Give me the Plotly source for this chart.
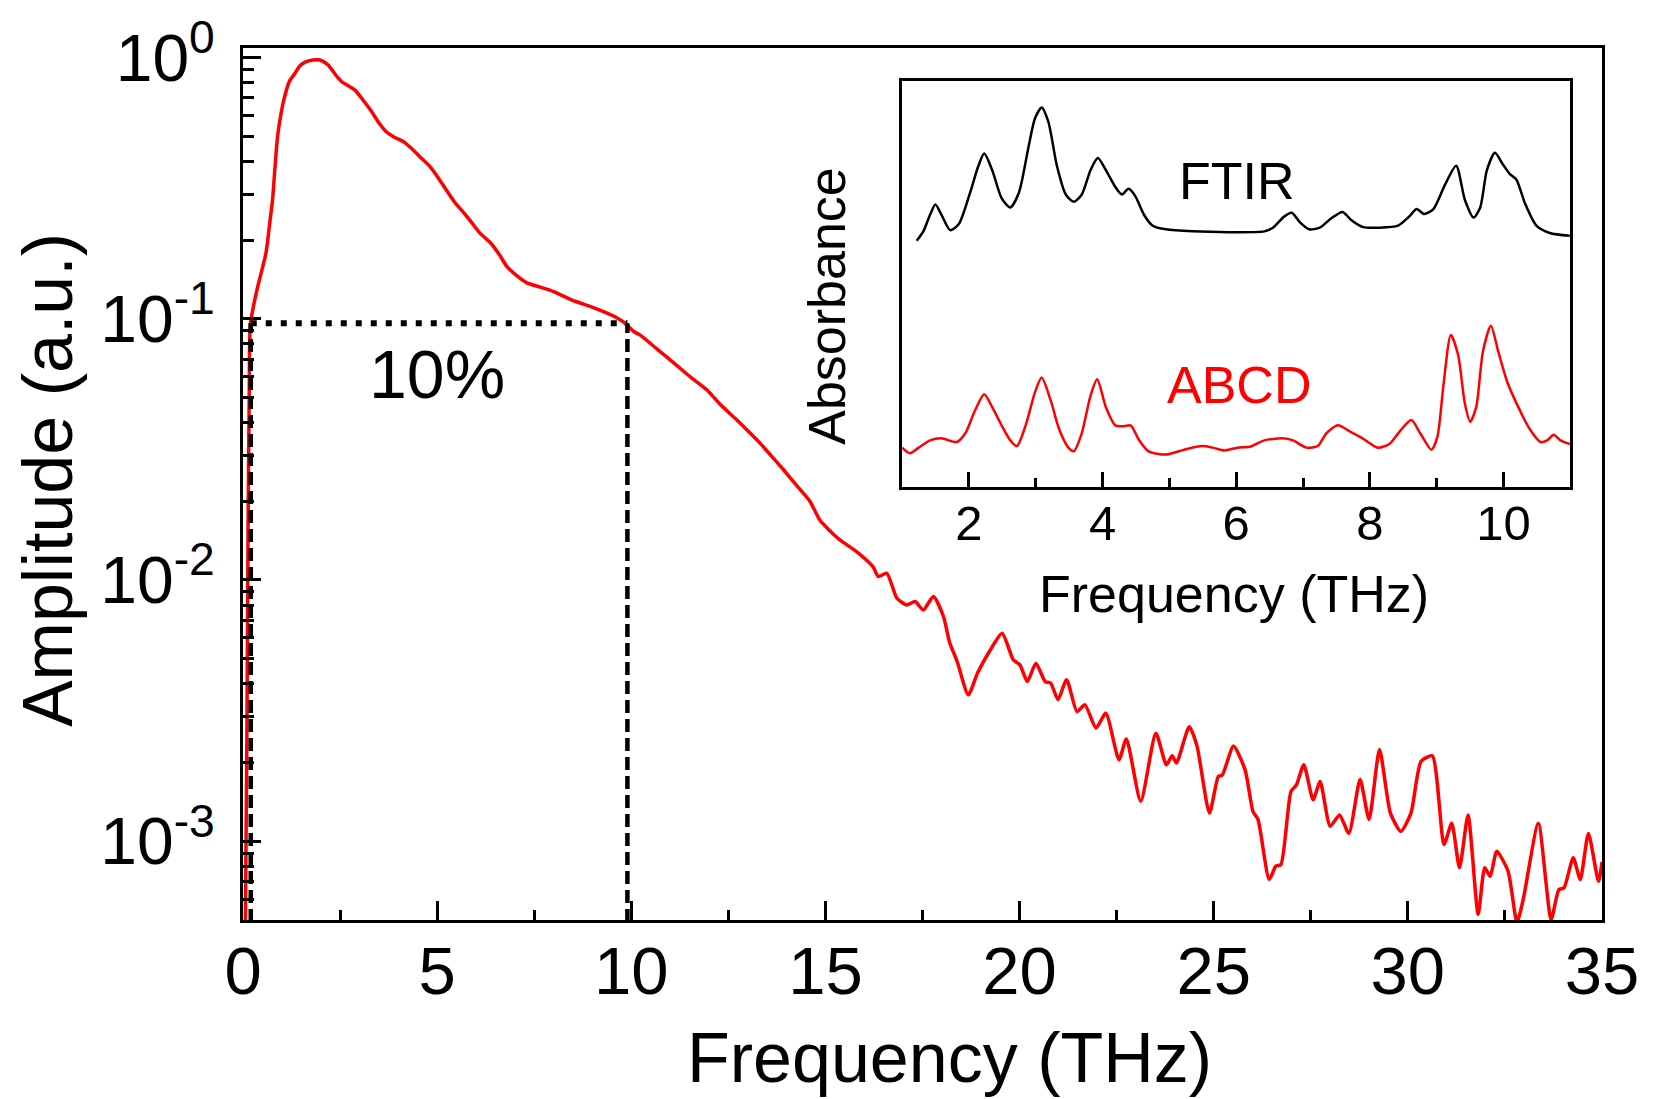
import plotly.graph_objects as go

# ---------------- data ----------------
main_freq = [0.06, 0.10, 0.13, 0.16, 0.19, 0.36, 0.59, 0.70, 0.76, 0.82, 0.88, 0.94, 1.05, 1.2, 1.34, 1.45,
             1.6, 1.8, 1.95, 2.05, 2.2, 2.4, 2.55, 2.7, 2.89, 3.1, 3.29, 3.5, 3.69, 3.9, 4.15, 4.35, 4.56,
             4.79, 5.0, 5.24, 5.45, 5.70, 5.9, 6.11, 6.39, 6.6, 6.80, 7.05, 7.31, 7.66, 8.0, 8.46, 9.04,
             9.50, 9.79, 10.07, 10.23, 10.75, 11.1, 11.52, 11.95, 12.3, 12.72, 13.0, 13.32, 13.6, 13.92,
             14.3, 14.6, 14.86, 15.1, 15.38, 15.81, 16.23, 16.36, 16.58, 16.84, 17.09, 17.31, 17.52, 17.78,
             18.04, 18.2, 18.39, 18.68, 18.92, 19.25, 19.55, 19.84, 20.01, 20.2, 20.42, 20.66, 20.8, 20.99,
             21.21, 21.48, 21.68, 21.97, 22.22, 22.56, 22.75, 23.12, 23.51, 23.78, 23.93, 24.04, 24.37,
             24.57, 24.89, 25.12, 25.22, 25.51, 25.81, 26.01, 26.14, 26.43, 26.6, 26.73, 26.99, 27.13,
             27.32, 27.56, 27.74, 28.0, 28.24, 28.48, 28.77, 29.0, 29.27, 29.55, 29.82, 30.08, 30.34,
             30.63, 30.93, 31.13, 31.33, 31.55, 31.81, 31.98, 32.12, 32.29, 32.58, 32.81, 32.97, 33.36,
             33.69, 33.89, 34.02, 34.26, 34.44, 34.65, 34.91, 35.0]
main_amp = [4.47e-4, 2.51e-3, 0.0158, 0.0501, 0.0955, 0.129, 0.178, 0.240, 0.284, 0.372, 0.482, 0.562,
            0.686, 0.813, 0.869, 0.923, 0.959, 0.977, 0.979, 0.968, 0.933, 0.851, 0.805, 0.780, 0.748,
            0.684, 0.627, 0.562, 0.519, 0.495, 0.474, 0.447, 0.416, 0.386, 0.351, 0.310, 0.279, 0.253,
            0.232, 0.212, 0.194, 0.176, 0.158, 0.146, 0.137, 0.132, 0.127, 0.118, 0.110, 0.103, 0.0973,
            0.0891, 0.0865, 0.0746, 0.0676, 0.0598, 0.0533, 0.0468, 0.0409, 0.0372, 0.0333, 0.0299,
            0.0264, 0.0226, 0.0200, 0.0169, 0.0155, 0.0142, 0.0128, 0.0112, 0.0103, 0.0106, 0.00851,
            0.00802, 0.00826, 0.00767, 0.00863, 0.00724, 0.00575, 0.00488, 0.00363, 0.00441, 0.00540,
            0.00625, 0.00494, 0.00473, 0.00408, 0.00480, 0.00408, 0.00403, 0.00348, 0.00415, 0.00313,
            0.00333, 0.00271, 0.00309, 0.00205, 0.00246, 0.00142, 0.00259, 0.00196, 0.00212, 0.00199,
            0.00274, 0.00231, 0.00128, 0.00177, 0.00179, 0.00231, 0.00187, 0.00130, 0.00121, 0.000713,
            0.000802, 0.000813, 0.00155, 0.00164, 0.00196, 0.00144, 0.00169, 0.00114, 0.00126, 0.00107,
            0.00172, 0.00121, 0.00224, 0.00128, 0.00109, 0.00128, 0.00202, 0.00212, 0.000970, 0.00117,
            0.000791, 0.00126, 0.000524, 0.000791, 0.000733, 0.000914, 0.000767, 0.000490, 0.000597,
            0.00117, 0.000501, 0.000653, 0.000662, 0.000863, 0.000713, 0.00107, 0.000702, 0.000832]

# 10 % bandwidth markers
band_lo = 0.2
band_hi = 9.9
band_level = 0.096
amp_floor = 4.9e-4

# inset: absorbance (arbitrary units, FTIR offset upward)
ftir_freq = [1.22, 1.32, 1.42, 1.50, 1.59, 1.72, 1.85, 2.02, 2.14, 2.23, 2.35, 2.49, 2.62, 2.75, 2.89,
             2.99, 3.09, 3.19, 3.32, 3.45, 3.57, 3.69, 3.82, 3.93, 4.05, 4.19, 4.29, 4.39, 4.49, 4.62,
             4.75, 4.95, 5.35, 5.89, 6.42, 6.55, 6.72, 6.83, 6.95, 7.09, 7.25, 7.42, 7.59, 7.72, 7.89,
             8.15, 8.42, 8.59, 8.70, 8.81, 8.95, 9.12, 9.29, 9.42, 9.55, 9.65, 9.75, 9.87, 9.99, 10.09,
             10.19, 10.32, 10.49, 10.69, 10.99]
ftir_abs = [0.607, 0.630, 0.671, 0.696, 0.671, 0.633, 0.648, 0.726, 0.790, 0.822, 0.781, 0.712, 0.689,
            0.726, 0.836, 0.909, 0.936, 0.900, 0.790, 0.721, 0.703, 0.721, 0.781, 0.811, 0.781, 0.740,
            0.721, 0.735, 0.717, 0.671, 0.644, 0.635, 0.630, 0.628, 0.630, 0.639, 0.667, 0.676, 0.653,
            0.635, 0.639, 0.662, 0.678, 0.658, 0.641, 0.639, 0.644, 0.667, 0.685, 0.673, 0.685, 0.744,
            0.792, 0.708, 0.664, 0.689, 0.781, 0.824, 0.795, 0.772, 0.758, 0.699, 0.644, 0.626, 0.619]

abcd_freq = [1.0, 1.12, 1.25, 1.42, 1.59, 1.82, 1.95, 2.09, 2.23, 2.35, 2.49, 2.62, 2.72, 2.85, 2.99,
             3.09, 3.22, 3.35, 3.49, 3.57, 3.69, 3.82, 3.92, 4.05, 4.19, 4.32, 4.42, 4.55, 4.69, 4.95,
             5.22, 5.49, 5.65, 5.82, 6.02, 6.22, 6.42, 6.69, 6.85, 7.05, 7.22, 7.35, 7.52, 7.69, 7.89,
             8.12, 8.29, 8.45, 8.62, 8.75, 8.92, 9.01, 9.10, 9.21, 9.32, 9.42, 9.50, 9.59, 9.69, 9.81,
             9.92, 10.05, 10.22, 10.39, 10.55, 10.65, 10.75, 10.85, 10.99]
abcd_abs = [0.096, 0.082, 0.096, 0.114, 0.119, 0.110, 0.132, 0.187, 0.228, 0.196, 0.151, 0.114, 0.100,
            0.151, 0.233, 0.269, 0.215, 0.142, 0.096, 0.087, 0.132, 0.224, 0.265, 0.196, 0.151, 0.149,
            0.151, 0.114, 0.087, 0.079, 0.091, 0.100, 0.096, 0.089, 0.096, 0.099, 0.114, 0.119, 0.114,
            0.096, 0.100, 0.132, 0.151, 0.137, 0.119, 0.096, 0.105, 0.137, 0.164, 0.132, 0.091, 0.123,
            0.251, 0.374, 0.324, 0.205, 0.160, 0.196, 0.333, 0.397, 0.333, 0.260, 0.196, 0.142, 0.110,
            0.114, 0.128, 0.114, 0.105]

main_xticks = [0, 5, 10, 15, 20, 25, 30, 35]
main_yticks = [1e-3, 1e-2, 1e-1, 1]
main_yticktext = ["10<sup>-3</sup>", "10<sup>-2</sup>", "10<sup>-1</sup>", "10<sup>0</sup>"]
inset_xticks = [2, 4, 6, 8, 10]

FONT = "Liberation Sans, Arial, sans-serif"

fig = go.Figure()

fig.add_trace(go.Scatter(x=main_freq, y=main_amp, mode="lines",
                         line=dict(color="#ff0000", width=3.5, shape="spline", smoothing=0.6),
                         showlegend=False, xaxis="x", yaxis="y"))
# dotted horizontal 10% line
fig.add_trace(go.Scatter(x=[band_lo, band_hi], y=[band_level, band_level], mode="lines",
                         line=dict(color="black", width=6, dash="6px,9px"),
                         showlegend=False, xaxis="x", yaxis="y"))
# dashed verticals
for xv in (band_lo, band_hi):
    fig.add_trace(go.Scatter(x=[xv, xv], y=[amp_floor, band_level], mode="lines",
                             line=dict(color="black", width=4.5, dash="13px,6px"),
                             showlegend=False, xaxis="x", yaxis="y"))

fig.add_trace(go.Scatter(x=ftir_freq, y=ftir_abs, mode="lines",
                         line=dict(color="black", width=2.5, shape="spline", smoothing=0.7),
                         showlegend=False, xaxis="x2", yaxis="y2"))
fig.add_trace(go.Scatter(x=abcd_freq, y=abcd_abs, mode="lines",
                         line=dict(color="#ff0000", width=2.5, shape="spline", smoothing=0.7),
                         showlegend=False, xaxis="x2", yaxis="y2"))

minor_y = [m * 10.0 ** e for e in (-4, -3, -2, -1) for m in range(2, 10)]

fig.update_layout(
    width=1654, height=1099, autosize=False,
    margin=dict(l=243, r=52, t=48, b=179, pad=0),
    paper_bgcolor="white", plot_bgcolor="white",
    font=dict(family=FONT, color="black"),
    xaxis=dict(domain=[0, 1], range=[0, 35], tickmode="array", tickvals=main_xticks,
               ticks="inside", ticklen=19, tickwidth=3, tickcolor="black",
               minor=dict(tickmode="linear", tick0=0, dtick=2.5, ticks="inside", ticklen=10,
                          tickwidth=3, tickcolor="black", showgrid=False),
               showline=True, linewidth=3, linecolor="black", mirror=True,
               showgrid=False, zeroline=False,
               tickfont=dict(size=67, family=FONT, color="black"), ticklabelstandoff=-9),
    yaxis=dict(domain=[0, 1], type="log", range=[-3.302, 0.036], tickmode="array",
               tickvals=main_yticks, ticktext=main_yticktext,
               ticks="inside", ticklen=18, tickwidth=3, tickcolor="black",
               minor=dict(tickmode="array", tickvals=minor_y, ticks="inside", ticklen=11,
                          tickwidth=3, tickcolor="black", showgrid=False),
               showline=True, linewidth=3, linecolor="black", mirror=True,
               showgrid=False, zeroline=False,
               tickfont=dict(size=66, family=FONT, color="black"), ticklabelstandoff=12),
    xaxis2=dict(domain=[0.4849, 0.9768], anchor="y2", range=[1, 11], tickmode="array",
                tickvals=inset_xticks, ticks="inside", ticklen=15, tickwidth=3, tickcolor="black",
                minor=dict(tickmode="linear", tick0=1, dtick=1, ticks="inside", ticklen=9,
                           tickwidth=3, tickcolor="black", showgrid=False),
                showline=True, linewidth=3, linecolor="black", mirror=True,
                showgrid=False, zeroline=False,
                tickfont=dict(size=49, family=FONT, color="black"), ticklabelstandoff=-8),
    yaxis2=dict(domain=[0.4971, 0.9616], anchor="x2", range=[0, 1],
                showticklabels=False, ticks="",
                showline=True, linewidth=3, linecolor="black", mirror=True,
                showgrid=False, zeroline=False),
    annotations=[
        dict(text="Frequency (THz)", xref="paper", yref="paper", x=0.5195, y=-0.158,
             xanchor="center", yanchor="middle", showarrow=False,
             font=dict(size=70, family=FONT, color="black")),
        dict(text="Amplitude (a.u.)", xref="paper", yref="paper", x=-0.1439, y=0.505,
             xanchor="center", yanchor="middle", showarrow=False, textangle=-90,
             font=dict(size=70, family=FONT, color="black")),
        dict(text="10%", xref="x", yref="y", x=5.0, y=-1.21,
             xanchor="center", yanchor="middle", showarrow=False,
             font=dict(size=68, family=FONT, color="black")),
        dict(text="Frequency (THz)", xref="paper", yref="paper", x=0.7291, y=0.374,
             xanchor="center", yanchor="middle", showarrow=False,
             font=dict(size=52, family=FONT, color="black")),
        dict(text="Absorbance", xref="paper", yref="paper", x=0.4298, y=0.7045,
             xanchor="center", yanchor="middle", showarrow=False, textangle=-90,
             font=dict(size=52, family=FONT, color="black")),
        dict(text="FTIR", xref="x2", yref="y2", x=6.01, y=0.754,
             xanchor="center", yanchor="middle", showarrow=False,
             font=dict(size=52, family=FONT, color="black")),
        dict(text="ABCD", xref="x2", yref="y2", x=6.04, y=0.25,
             xanchor="center", yanchor="middle", showarrow=False,
             font=dict(size=52, family=FONT, color="#ff0000")),
    ],
)

fig.write_html("out.html")
